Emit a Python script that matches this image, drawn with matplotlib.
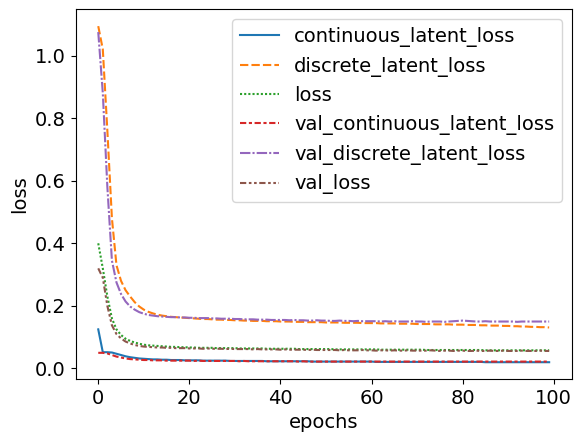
import pandas as pd
import matplotlib
matplotlib.use('Agg')
import matplotlib.pyplot as plt
import seaborn as sns

plt.rcParams['font.size'] = 14

# valores, una entrada por época (0..99)
continuous_latent_loss = [
    0.125, 0.052, 0.052, 0.051, 0.047, 0.043, 0.039, 0.036, 0.034, 0.032,
    0.031, 0.030, 0.029, 0.029, 0.028, 0.028, 0.027, 0.027, 0.027, 0.026,
    0.026, 0.026, 0.026, 0.025, 0.025, 0.025, 0.025, 0.025, 0.025, 0.024,
    0.024, 0.024, 0.024, 0.024, 0.024, 0.024, 0.024, 0.023, 0.023, 0.023,
    0.023, 0.023, 0.023, 0.023, 0.023, 0.023, 0.023, 0.022, 0.022, 0.022,
    0.022, 0.022, 0.022, 0.022, 0.022, 0.022, 0.022, 0.022, 0.022, 0.022,
    0.022, 0.021, 0.021, 0.021, 0.021, 0.021, 0.021, 0.021, 0.021, 0.021,
    0.021, 0.021, 0.021, 0.021, 0.021, 0.021, 0.021, 0.021, 0.021, 0.021,
    0.021, 0.021, 0.021, 0.021, 0.021, 0.020, 0.020, 0.020, 0.020, 0.020,
    0.020, 0.020, 0.020, 0.020, 0.020, 0.020, 0.020, 0.020, 0.020, 0.020,
]
discrete_latent_loss = [
    1.094, 1.020, 0.760, 0.480, 0.330, 0.280, 0.250, 0.230, 0.212, 0.198,
    0.188, 0.181, 0.176, 0.172, 0.169, 0.167, 0.165, 0.164, 0.163, 0.162,
    0.161, 0.160, 0.159, 0.158, 0.158, 0.157, 0.156, 0.156, 0.155, 0.155,
    0.154, 0.154, 0.153, 0.153, 0.152, 0.152, 0.152, 0.151, 0.151, 0.151,
    0.150, 0.150, 0.150, 0.149, 0.149, 0.149, 0.148, 0.148, 0.148, 0.148,
    0.147, 0.147, 0.147, 0.147, 0.146, 0.146, 0.146, 0.146, 0.145, 0.145,
    0.145, 0.145, 0.144, 0.144, 0.144, 0.144, 0.143, 0.143, 0.143, 0.143,
    0.142, 0.142, 0.142, 0.142, 0.141, 0.141, 0.141, 0.141, 0.140, 0.140,
    0.140, 0.139, 0.139, 0.139, 0.138, 0.138, 0.137, 0.137, 0.137, 0.136,
    0.136, 0.135, 0.135, 0.134, 0.134, 0.133, 0.133, 0.132, 0.132, 0.131,
]
loss = [
    0.400, 0.320, 0.230, 0.160, 0.125, 0.107, 0.095, 0.088, 0.083, 0.079,
    0.076, 0.074, 0.073, 0.072, 0.071, 0.070, 0.069, 0.069, 0.068, 0.068,
    0.067, 0.067, 0.066, 0.066, 0.066, 0.066, 0.065, 0.065, 0.065, 0.065,
    0.065, 0.064, 0.064, 0.064, 0.064, 0.064, 0.064, 0.063, 0.063, 0.063,
    0.063, 0.063, 0.063, 0.063, 0.062, 0.062, 0.062, 0.062, 0.062, 0.062,
    0.062, 0.062, 0.061, 0.061, 0.061, 0.061, 0.061, 0.061, 0.061, 0.061,
    0.061, 0.061, 0.060, 0.060, 0.060, 0.060, 0.060, 0.060, 0.060, 0.060,
    0.060, 0.060, 0.059, 0.059, 0.059, 0.059, 0.059, 0.059, 0.059, 0.059,
    0.059, 0.059, 0.059, 0.059, 0.059, 0.058, 0.058, 0.058, 0.058, 0.058,
    0.058, 0.058, 0.058, 0.058, 0.058, 0.058, 0.058, 0.058, 0.058, 0.058,
]
val_continuous_latent_loss = [
    0.050, 0.050, 0.048, 0.043, 0.038, 0.035, 0.032, 0.030, 0.029, 0.028,
    0.027, 0.027, 0.026, 0.026, 0.026, 0.025, 0.025, 0.025, 0.025, 0.025,
    0.025, 0.024, 0.025, 0.024, 0.024, 0.024, 0.024, 0.024, 0.024, 0.024,
    0.024, 0.023, 0.024, 0.023, 0.023, 0.023, 0.023, 0.023, 0.023, 0.023,
    0.023, 0.023, 0.023, 0.023, 0.022, 0.023, 0.022, 0.022, 0.022, 0.022,
    0.022, 0.022, 0.022, 0.022, 0.022, 0.022, 0.022, 0.022, 0.022, 0.022,
    0.022, 0.022, 0.022, 0.022, 0.022, 0.022, 0.022, 0.022, 0.022, 0.022,
    0.022, 0.022, 0.022, 0.022, 0.022, 0.022, 0.022, 0.022, 0.022, 0.022,
    0.022, 0.022, 0.022, 0.022, 0.022, 0.022, 0.022, 0.022, 0.022, 0.022,
    0.022, 0.022, 0.022, 0.022, 0.022, 0.022, 0.022, 0.022, 0.022, 0.022,
]
val_discrete_latent_loss = [
    1.075, 0.880, 0.580, 0.345, 0.275, 0.238, 0.214, 0.198, 0.188, 0.180,
    0.175, 0.171, 0.169, 0.167, 0.166, 0.165, 0.164, 0.164, 0.163, 0.163,
    0.162, 0.162, 0.161, 0.161, 0.161, 0.160, 0.160, 0.159, 0.159, 0.159,
    0.158, 0.158, 0.157, 0.157, 0.157, 0.156, 0.156, 0.156, 0.155, 0.155,
    0.155, 0.155, 0.154, 0.155, 0.154, 0.154, 0.153, 0.153, 0.154, 0.153,
    0.153, 0.152, 0.152, 0.153, 0.152, 0.152, 0.151, 0.152, 0.151, 0.151,
    0.151, 0.151, 0.150, 0.151, 0.150, 0.151, 0.150, 0.150, 0.150, 0.151,
    0.150, 0.150, 0.149, 0.150, 0.150, 0.150, 0.149, 0.150, 0.151, 0.152,
    0.153, 0.152, 0.151, 0.150, 0.150, 0.151, 0.150, 0.150, 0.150, 0.150,
    0.150, 0.150, 0.149, 0.150, 0.150, 0.150, 0.150, 0.150, 0.150, 0.150,
]
val_loss = [
    0.320, 0.290, 0.200, 0.138, 0.110, 0.096, 0.086, 0.080, 0.075, 0.072,
    0.070, 0.069, 0.068, 0.067, 0.067, 0.066, 0.066, 0.065, 0.065, 0.065,
    0.064, 0.064, 0.064, 0.063, 0.064, 0.063, 0.063, 0.063, 0.062, 0.063,
    0.062, 0.062, 0.062, 0.062, 0.061, 0.062, 0.061, 0.061, 0.061, 0.061,
    0.060, 0.061, 0.060, 0.060, 0.060, 0.060, 0.059, 0.060, 0.059, 0.059,
    0.059, 0.059, 0.059, 0.058, 0.059, 0.058, 0.058, 0.058, 0.059, 0.058,
    0.058, 0.057, 0.058, 0.058, 0.057, 0.058, 0.057, 0.057, 0.058, 0.057,
    0.057, 0.057, 0.057, 0.058, 0.057, 0.056, 0.057, 0.057, 0.056, 0.057,
    0.057, 0.056, 0.056, 0.057, 0.056, 0.056, 0.057, 0.056, 0.056, 0.057,
    0.056, 0.056, 0.056, 0.057, 0.056, 0.056, 0.056, 0.057, 0.056, 0.056,
]

historia = pd.DataFrame({
    'continuous_latent_loss': continuous_latent_loss,
    'discrete_latent_loss': discrete_latent_loss,
    'loss': loss,
    'val_continuous_latent_loss': val_continuous_latent_loss,
    'val_discrete_latent_loss': val_discrete_latent_loss,
    'val_loss': val_loss,
})

fig = plt.figure(figsize=(5.81, 4.42), dpi=100)
ax = fig.add_axes([0.1303, 0.1425, 0.8537, 0.8364])
sns.lineplot(data=historia, ax=ax)
ax.set_xlabel('epochs')
ax.set_ylabel('loss')

fig.savefig('out.png', dpi=100)
